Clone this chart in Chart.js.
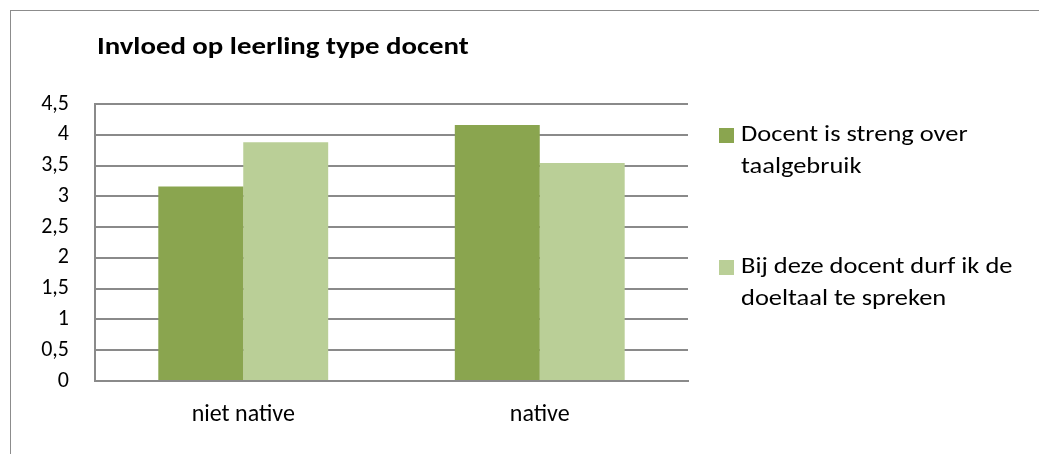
<!DOCTYPE html>
<html>
<head>
<meta charset="utf-8">
<script src="https://cdn.jsdelivr.net/npm/chart.js@4.4.1/dist/chart.umd.min.js"></script>
<style>
  html, body { margin: 0; padding: 0; background: #fff; }
  #wrap { position: relative; width: 1039px; height: 454px; overflow: hidden; }
  #frame { position: absolute; left: 10px; top: 10px; right: -5px; bottom: -5px;
           border-top: 1px solid #8c8c8c; border-left: 1px solid #8c8c8c; }
  canvas { position: absolute; left: 0; top: 0; }
</style>
</head>
<body>
<div id="wrap">
  <div id="frame"></div>
  <canvas id="grafiek" width="1039" height="454"></canvas>
</div>
<script>
const titel = 'Invloed op leerling type docent';
const categorieen = ['niet native', 'native'];
const reeksNamen = ['Docent is streng over taalgebruik', 'Bij deze docent durf ik de doeltaal te spreken'];
const strengOverTaal = [3.16, 4.16];
const durfDoeltaal = [3.88, 3.54];
const kleuren = ['#8aa54f', '#bacf97'];
const yMax = 4.5;
const yStap = 0.5;

const lettertype = "Carlito, Calibri, 'Open Sans', sans-serif";

// tekst opbreken in regels die binnen maxBreedte passen
function breekRegels(ctx, tekst, maxBreedte, rek) {
    const woorden = tekst.split(' ');
    const regels = [];
    let regel = '';
    woorden.forEach(w => {
        const test = regel ? regel + ' ' + w : w;
        if (ctx.measureText(test).width * rek > maxBreedte && regel) {
            regels.push(regel);
            regel = w;
        } else {
            regel = test;
        }
    });
    if (regel) regels.push(regel);
    return regels;
}

// tekst iets breder getrokken tekenen
function brede_tekst(ctx, tekst, x, y, rek) {
    ctx.save();
    ctx.translate(x, y);
    ctx.scale(rek, 1);
    ctx.fillText(tekst, 0, 0);
    ctx.restore();
}

// titel en legenda zelf tekenen
const tekstPlugin = {
    id: 'tekstPlugin',
    afterDraw(chart) {
        const ctx = chart.ctx;
        const area = chart.chartArea;
        ctx.save();
        ctx.fillStyle = '#000';
        ctx.textBaseline = 'middle';
        ctx.textAlign = 'left';
        ctx.font = 'bold 24px ' + lettertype;
        brede_tekst(ctx, titel, area.left + 2, 48, 1.2);

        ctx.font = '23px ' + lettertype;
        const lx = area.right + 31;
        const itemTop = [area.top + 24, area.top + 156];
        chart.data.datasets.forEach((ds, i) => {
            const y0 = itemTop[i];
            ctx.fillStyle = ds.backgroundColor;
            ctx.fillRect(lx, y0, 15, 15);
            ctx.fillStyle = '#000';
            const regels = breekRegels(ctx, ds.label, 290, 1.15);
            regels.forEach((r, j) => {
                brede_tekst(ctx, r, lx + 22, y0 + 7 + j * 32, 1.15);
            });
        });
        ctx.restore();
    }
};

new Chart(document.getElementById('grafiek'), {
    type: 'bar',
    data: {
        labels: categorieen,
        datasets: [
            { label: reeksNamen[0], data: strengOverTaal, backgroundColor: kleuren[0] },
            { label: reeksNamen[1], data: durfDoeltaal, backgroundColor: kleuren[1] }
        ]
    },
    options: {
        responsive: false,
        animation: false,
        layout: { padding: { left: 0, top: 104, right: 351, bottom: 0 } },
        datasets: {
            bar: { categoryPercentage: 0.573, barPercentage: 1, borderWidth: 0 }
        },
        plugins: {
            legend: { display: false },
            title: { display: false },
            tooltip: { enabled: false }
        },
        scales: {
            x: {
                grid: { display: false, drawTicks: false },
                border: { display: true, color: '#8a8a8a', width: 2 },
                ticks: { color: '#000', font: { family: lettertype, size: 24 }, padding: 20 },
                afterFit(scale) { scale.height = 73; }
            },
            y: {
                min: 0,
                max: yMax,
                grid: { color: '#8a8a8a', lineWidth: 2, drawTicks: false },
                border: { display: true, color: '#8a8a8a', width: 2 },
                ticks: {
                    stepSize: yStap,
                    color: '#000',
                    padding: 26,
                    font: { family: lettertype, size: 22 },
                    callback: v => String(v).replace('.', ',')
                },
                afterFit(scale) { scale.width = 95; }
            }
        }
    },
    plugins: [tekstPlugin]
});
</script>
</body>
</html>
